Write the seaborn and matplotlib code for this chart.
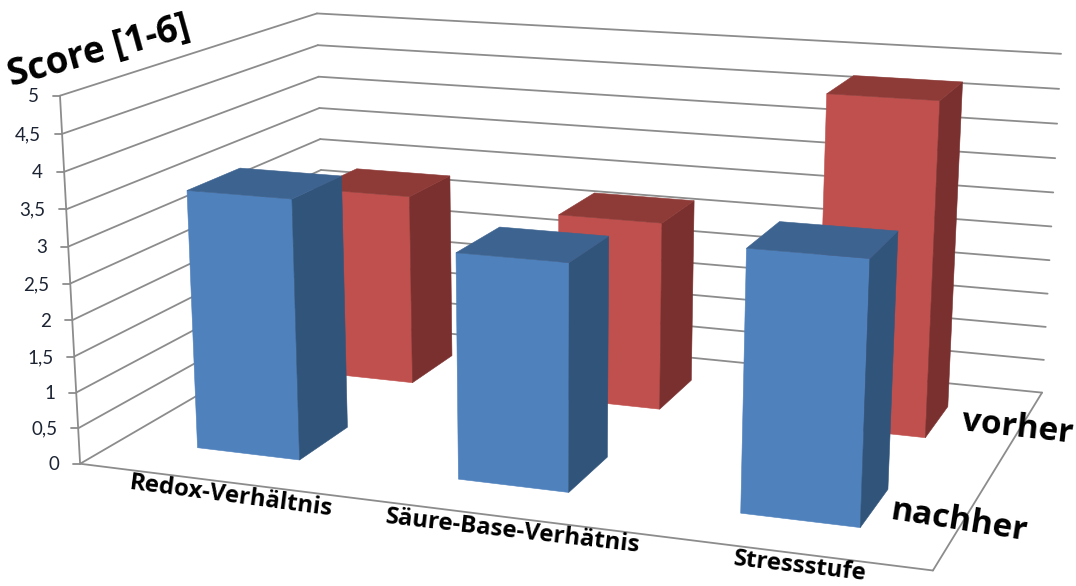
import numpy as np
import pandas as pd
import matplotlib
matplotlib.use("Agg")
import matplotlib.pyplot as plt
import seaborn as sns

# Chart values
categories = ["Redox-Verhältnis", "Säure-Base-Verhätnis", "Stressstufe"]
series_names = ["nachher", "vorher"]
nachher = [3.6, 3.07, 3.45]
vorher = [2.83, 2.74, 4.72]
score_ticks = [0, 0.5, 1, 1.5, 2, 2.5, 3, 3.5, 4, 4.5, 5]
tick_labels = ["0", "0,5", "1", "1,5", "2", "2,5", "3", "3,5", "4", "4,5", "5"]
axis_title = "Score [1-6]"

# Shades per series: front, top and side faces
face_colors = {
    "nachher": ("#4F81BD", "#3D6390", "#31547B"),
    "vorher": ("#C0504D", "#8E3B38", "#7A302E"),
}
grid_color = "#8C8C8C"

# Camera: screen position of the plot box corners (category, depth, score)
box_world = np.array([
    [0, 0, 0], [1, 0, 0], [1, 1, 0], [0, 1, 0],
    [0, 0, 5], [0, 1, 5], [1, 1, 5],
], dtype=float)
box_screen = np.array([
    [80, 463], [933, 571], [1042, 392], [325, 322],
    [60, 96], [317, 13], [1061, 54],
], dtype=float)


def fit_camera(world, screen):
    rows, rhs = [], []
    for (x, y, z), (u, v) in zip(world, screen):
        rows.append([x, y, z, 1, 0, 0, 0, 0, -u * x, -u * y, -u * z])
        rows.append([0, 0, 0, 0, x, y, z, 1, -v * x, -v * y, -v * z])
        rhs += [u, v]
    p = np.linalg.lstsq(np.array(rows), np.array(rhs), rcond=None)[0]
    return np.append(p, 1.0).reshape(3, 4)


camera = fit_camera(box_world, box_screen)


def project(x, y, z):
    h = camera @ np.array([x, y, z, 1.0])
    return h[0] / h[2], h[1] / h[2]


sns.set_theme(style="white")
plt.rcParams["font.family"] = ["Lato", "DejaVu Sans"]

fig = plt.figure(figsize=(10.76, 5.86), dpi=100)
ax = fig.add_axes([0, 0, 1, 1])
ax.set_xlim(0, 1076)
ax.set_ylim(586, 0)
ax.axis("off")


def edge(a, b, lw=1.3):
    pa, pb = project(*a), project(*b)
    ax.plot([pa[0], pb[0]], [pa[1], pb[1]], color=grid_color, lw=lw, zorder=1,
            solid_capstyle="round")


# Walls and floor
for z, lab in zip(score_ticks, tick_labels):
    edge((0, 0, z), (0, 1, z))
    edge((0, 1, z), (1, 1, z))
    u, v = project(0, 0, z)
    ax.plot([u - 7, u], [v, v], color=grid_color, lw=1.3, zorder=1)
    ax.text(u - 21, v + 1, lab, ha="right", va="center", fontsize=13.5, color="#1C2433")
edge((0, 0, 0), (0, 0, 5))
edge((0, 0, 0), (1, 0, 0))
edge((1, 0, 0), (1, 1, 0))

# Tidy table of bars, painted from the back row forward
bars = pd.DataFrame({
    "category": categories * 2,
    "series": ["vorher"] * 3 + ["nachher"] * 3,
    "slot": [0, 1, 2] * 2,
    "depth": [0.75] * 3 + [0.25] * 3,
    "score": vorher + nachher,
})

half_w = 0.0667
half_d = 0.10
for _, row in bars.iterrows():
    cx = (row.slot + 0.5) / 3
    x0, x1 = cx - half_w, cx + half_w
    y0, y1 = row.depth - half_d, row.depth + half_d
    z = row.score
    front, top, side = face_colors[row.series]
    faces = [
        (front, [(x0, y0, 0), (x1, y0, 0), (x1, y0, z), (x0, y0, z)]),
        (side, [(x1, y0, 0), (x1, y1, 0), (x1, y1, z), (x1, y0, z)]),
        (top, [(x0, y0, z), (x1, y0, z), (x1, y1, z), (x0, y1, z)]),
    ]
    for color, pts in faces:
        screen = np.array([project(*p) for p in pts])
        ax.fill(screen[:, 0], screen[:, 1], color=color, lw=0.4, zorder=3)

# Perspective-tilted labels
label_style = dict(fontweight="bold", color="black", ha="center", va="center",
                   rotation_mode="anchor", zorder=5, family="Open Sans")
ax.text(99, 52, axis_title, fontsize=26.5, rotation=15.5, **label_style)
ax.text(231, 496, categories[0], fontsize=17.3, rotation=-7.5, **label_style)
ax.text(513, 532, categories[1], fontsize=17.3, rotation=-6.5, **label_style)
ax.text(800, 567, categories[2], fontsize=17.3, rotation=-6.5, **label_style)
ax.text(1017, 428, series_names[1], fontsize=24, rotation=-6.5, **label_style)
ax.text(959, 521, series_names[0], fontsize=24, rotation=-9, **label_style)

fig.savefig("out.png", dpi=100)
